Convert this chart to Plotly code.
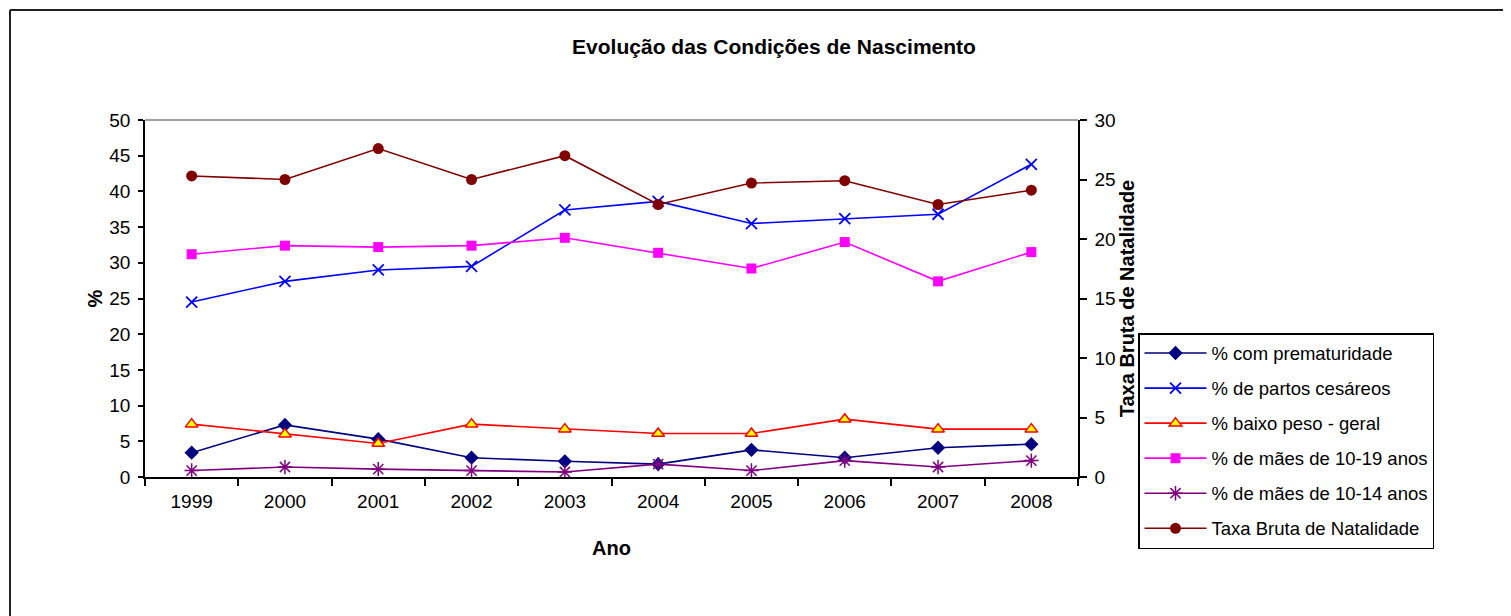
import plotly.graph_objects as go

anos = ["1999", "2000", "2001", "2002", "2003", "2004", "2005", "2006", "2007", "2008"]
prematuridade = [3.4, 7.3, 5.3, 2.7, 2.2, 1.8, 3.8, 2.7, 4.1, 4.6]
partos_cesareos = [24.5, 27.4, 29.0, 29.5, 37.4, 38.6, 35.5, 36.2, 36.8, 43.8]
baixo_peso = [7.4, 6.0, 4.7, 7.4, 6.7, 6.1, 6.1, 8.1, 6.7, 6.7]
maes_10_19 = [31.2, 32.4, 32.2, 32.4, 33.5, 31.4, 29.2, 32.9, 27.4, 31.5]
maes_10_14 = [0.9, 1.4, 1.1, 0.9, 0.7, 1.8, 0.9, 2.3, 1.4, 2.3]
taxa_bruta = [25.3, 25.0, 27.6, 25.0, 27.0, 22.9, 24.7, 24.9, 22.9, 24.1]

FONT = "Liberation Sans, Arial, sans-serif"

fig = go.Figure()

series = [
    ("% com prematuridade", prematuridade, "#000080", dict(symbol="diamond", size=11, color="#000080"), "y"),
    ("% de partos cesáreos", partos_cesareos, "#0000FF", dict(symbol="x-thin-open", size=11, color="#0000FF", line=dict(color="#0000FF", width=1.8)), "y"),
    ("% baixo peso - geral", baixo_peso, "#FF0000", dict(symbol="triangle-up", size=11, color="#FFFF00", line=dict(color="#FF0000", width=1.5)), "y"),
    ("% de mães de 10-19 anos", maes_10_19, "#FF00FF", dict(symbol="square", size=10, color="#FF00FF"), "y"),
    ("% de mães de 10-14 anos", maes_10_14, "#800080", dict(symbol="asterisk-open", size=12, color="#800080", line=dict(color="#800080", width=1.5)), "y"),
    ("Taxa Bruta de Natalidade", taxa_bruta, "#800000", dict(symbol="circle", size=11, color="#800000"), "y2"),
]

for i, (name, vals, col, mk, ax) in enumerate(series):
    fig.add_trace(go.Scatter(
        x=anos, y=vals, name=name, mode="lines+markers",
        line=dict(color=col, width=1.6), marker=mk, yaxis=ax,
        legendgroup=f"g{i}",
    ))

# page body adds an 8px offset; figure coordinates are shifted accordingly
OFF = 8
W, H = 1511 - OFF, 616 - OFF
L, R_ = 145 - OFF, 1078 - OFF
T, B_ = 120 - OFF, 477 - OFF

fig.update_layout(
    width=W, height=H,
    margin=dict(l=L, r=W - R_, t=T, b=H - B_),
    paper_bgcolor="white", plot_bgcolor="white",
    font=dict(family=FONT, size=19, color="black"),
    title=dict(text="<b>Evolução das Condições de Nascimento</b>", x=((570 + 978) / 2 - OFF) / W, xanchor="center",
               y=1 - (47 - OFF) / H, yanchor="middle", font=dict(size=21, family=FONT)),
    xaxis=dict(
        type="category", showgrid=False, zeroline=False,
        showline=True, linecolor="black", linewidth=1.5,
        ticks="outside", ticklen=7, tickcolor="black", tickwidth=1.5,
        tickson="boundaries", ticklabelstandoff=6,
        title=dict(text="<b>Ano</b>", font=dict(size=20), standoff=30),
        range=[-0.5, 9.5],
    ),
    yaxis=dict(
        range=[0, 50], dtick=5, showgrid=False, zeroline=False,
        showline=True, linecolor="black", linewidth=1.5,
        ticks="outside", ticklen=5, tickcolor="black", tickwidth=1.5,
        ticklabelstandoff=4,
        title=dict(text="<b>%</b>", font=dict(size=20), standoff=1),
    ),
    yaxis2=dict(
        range=[0, 30], dtick=5, overlaying="y", side="right",
        showgrid=False, zeroline=False,
        showline=True, linecolor="black", linewidth=1.5,
        ticks="outside", ticklen=7, tickcolor="black", tickwidth=1.5,
        ticklabelstandoff=4,
        title=dict(text="<b>Taxa Bruta de Natalidade</b>", font=dict(size=20), standoff=1),
    ),
    legend=dict(
        x=(1138 - 145) / 933, y=(477 - 333) / 357, xanchor="left", yanchor="top",
        bgcolor="white", bordercolor="black", borderwidth=1.5,
        font=dict(size=18.5, family=FONT),
        tracegroupgap=8, traceorder="grouped", itemwidth=62,
    ),
    showlegend=True,
)

# top plot border (gray) and outer chart border
fig.add_shape(type="line", xref="paper", yref="paper", x0=0, x1=1, y0=1, y1=1,
              line=dict(color="#808080", width=1.5))
bx = (10 - 145) / 933
by = (477 - 10) / 357
fig.add_shape(type="line", xref="paper", yref="paper", x0=bx, x1=bx, y0=-1, y1=by,
              line=dict(color="#222222", width=2))
fig.add_shape(type="line", xref="paper", yref="paper", x0=bx, x1=2, y0=by, y1=by,
              line=dict(color="#222222", width=2))

fig.write_html("out.html")
